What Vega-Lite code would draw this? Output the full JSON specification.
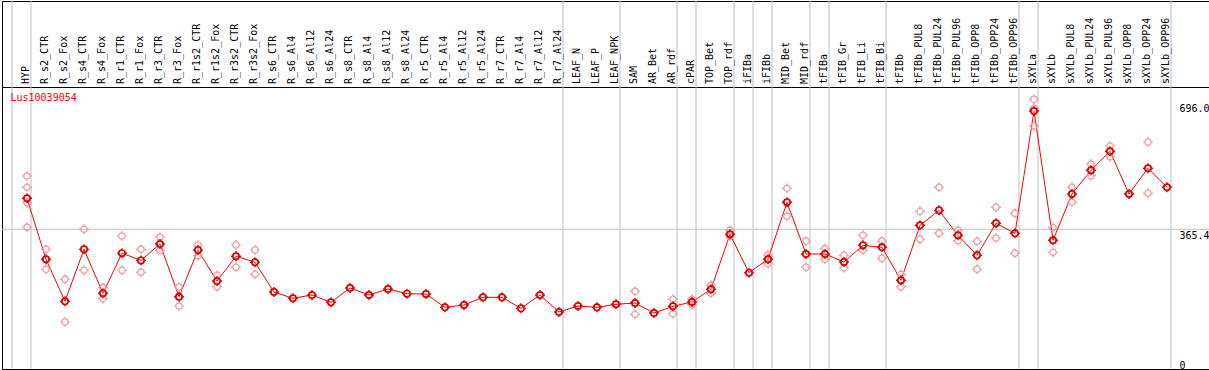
{
  "$schema": "https://vega.github.io/schema/vega-lite/v6.json",
  "padding": {"left": 1, "top": 0, "right": 0, "bottom": 0},
  "background": "white",
  "config": {
    "view": {"stroke": "black", "strokeWidth": 1},
    "font": "DejaVu Sans Mono"
  },
  "datasets": {
    "means": [
      {"cat": "HYP", "v": 446.5}, {"cat": "R_s2_CTR", "v": 287}, {"cat": "R_s2_Fox", "v": 177}, {"cat": "R_s4_CTR", "v": 313},
      {"cat": "R_s4_Fox", "v": 198}, {"cat": "R_r1_CTR", "v": 303}, {"cat": "R_r1_Fox", "v": 284}, {"cat": "R_r3_CTR", "v": 327},
      {"cat": "R_r3_Fox", "v": 189}, {"cat": "R_r1s2_CTR", "v": 311}, {"cat": "R_r1s2_Fox", "v": 230}, {"cat": "R_r3s2_CTR", "v": 295},
      {"cat": "R_r3s2_Fox", "v": 279}, {"cat": "R_s6_CTR", "v": 201.4}, {"cat": "R_s6_Al4", "v": 184.9}, {"cat": "R_s6_Al12", "v": 193.6},
      {"cat": "R_s6_Al24", "v": 174.4}, {"cat": "R_s8_CTR", "v": 211.9}, {"cat": "R_s8_Al4", "v": 193.6}, {"cat": "R_s8_Al12", "v": 209.3},
      {"cat": "R_s8_Al24", "v": 197}, {"cat": "R_r5_CTR", "v": 196.2}, {"cat": "R_r5_Al4", "v": 161.3}, {"cat": "R_r5_Al12", "v": 167.4},
      {"cat": "R_r5_Al24", "v": 187.5}, {"cat": "R_r7_CTR", "v": 187.5}, {"cat": "R_r7_Al4", "v": 158.7}, {"cat": "R_r7_Al12", "v": 193.6},
      {"cat": "R_r7_Al24", "v": 149.1}, {"cat": "LEAF_N", "v": 164.8}, {"cat": "LEAF_P", "v": 161.3}, {"cat": "LEAF_NPK", "v": 169.2},
      {"cat": "SAM", "v": 172.6}, {"cat": "AR_Bet", "v": 146.5}, {"cat": "AR_rdf", "v": 164}, {"cat": "cPAR", "v": 175.3},
      {"cat": "TOP_Bet", "v": 208.5}, {"cat": "TOP_rdf", "v": 352.3}, {"cat": "iFIBa", "v": 252}, {"cat": "iFIBb", "v": 286.9},
      {"cat": "MID_Bet", "v": 436}, {"cat": "MID_rdf", "v": 300.8}, {"cat": "tFIBa", "v": 300.8}, {"cat": "tFIB_Gr", "v": 279.9},
      {"cat": "tFIB_Li", "v": 323.5}, {"cat": "tFIB_Bi", "v": 318.3}, {"cat": "tFIBb", "v": 232}, {"cat": "tFIBb_PUL8", "v": 375.8},
      {"cat": "tFIBb_PUL24", "v": 415}, {"cat": "tFIBb_PUL96", "v": 349.7}, {"cat": "tFIBb_OPP8", "v": 297.3}, {"cat": "tFIBb_OPP24", "v": 381.1},
      {"cat": "tFIBb_OPP96", "v": 354.9}, {"cat": "sXYLa", "v": 674.9}, {"cat": "sXYLb", "v": 336.6}, {"cat": "sXYLb_PUL8", "v": 457.8},
      {"cat": "sXYLb_PUL24", "v": 519.7}, {"cat": "sXYLb_PUL96", "v": 569.4}, {"cat": "sXYLb_OPP8", "v": 457.8}, {"cat": "sXYLb_OPP24", "v": 525},
      {"cat": "sXYLb_OPP96", "v": 475.3}
    ],
    "reps": [
      {"cat": "HYP", "v": 504.8}, {"cat": "HYP", "v": 475.3}, {"cat": "HYP", "v": 435}, {"cat": "HYP", "v": 370.6},
      {"cat": "R_s2_CTR", "v": 313.1}, {"cat": "R_s2_CTR", "v": 260.8},
      {"cat": "R_s2_Fox", "v": 234.6}, {"cat": "R_s2_Fox", "v": 122.9},
      {"cat": "R_s4_CTR", "v": 365.4}, {"cat": "R_s4_CTR", "v": 258},
      {"cat": "R_s4_Fox", "v": 212.7}, {"cat": "R_s4_Fox", "v": 184},
      {"cat": "R_r1_CTR", "v": 347.9}, {"cat": "R_r1_CTR", "v": 258.1},
      {"cat": "R_r1_Fox", "v": 313.1}, {"cat": "R_r1_Fox", "v": 252.9},
      {"cat": "R_r3_CTR", "v": 345.3}, {"cat": "R_r3_CTR", "v": 310.4},
      {"cat": "R_r3_Fox", "v": 214.5}, {"cat": "R_r3_Fox", "v": 164.8},
      {"cat": "R_r1s2_CTR", "v": 324.3}, {"cat": "R_r1s2_CTR", "v": 296.4},
      {"cat": "R_r1s2_Fox", "v": 245}, {"cat": "R_r1s2_Fox", "v": 215.3},
      {"cat": "R_r3s2_CTR", "v": 324.3}, {"cat": "R_r3s2_CTR", "v": 266},
      {"cat": "R_r3s2_Fox", "v": 311.3}, {"cat": "R_r3s2_Fox", "v": 247.6},
      {"cat": "SAM", "v": 203.2}, {"cat": "SAM", "v": 172}, {"cat": "SAM", "v": 143},
      {"cat": "AR_rdf", "v": 182.3}, {"cat": "AR_rdf", "v": 144.7},
      {"cat": "cPAR", "v": 182.3}, {"cat": "cPAR", "v": 168.2},
      {"cat": "TOP_Bet", "v": 218.9}, {"cat": "TOP_Bet", "v": 198},
      {"cat": "TOP_rdf", "v": 362.8}, {"cat": "TOP_rdf", "v": 347.1},
      {"cat": "iFIBb", "v": 298.2}, {"cat": "iFIBb", "v": 275.5},
      {"cat": "MID_Bet", "v": 472.7}, {"cat": "MID_Bet", "v": 399.4},
      {"cat": "MID_rdf", "v": 334.8}, {"cat": "MID_rdf", "v": 266},
      {"cat": "tFIBa", "v": 314.7}, {"cat": "tFIBa", "v": 286.9},
      {"cat": "tFIB_Gr", "v": 297.3}, {"cat": "tFIB_Gr", "v": 265},
      {"cat": "tFIB_Li", "v": 349.7}, {"cat": "tFIB_Li", "v": 310.4},
      {"cat": "tFIB_Bi", "v": 334.8}, {"cat": "tFIB_Bi", "v": 289.6},
      {"cat": "tFIBb", "v": 247.6}, {"cat": "tFIBb", "v": 215.3},
      {"cat": "tFIBb_PUL8", "v": 412.4}, {"cat": "tFIBb_PUL8", "v": 339.1},
      {"cat": "tFIBb_PUL24", "v": 475.3}, {"cat": "tFIBb_PUL24", "v": 354.9},
      {"cat": "tFIBb_PUL96", "v": 362.8}, {"cat": "tFIBb_PUL96", "v": 335.7},
      {"cat": "tFIBb_OPP8", "v": 333.9}, {"cat": "tFIBb_OPP8", "v": 260.8},
      {"cat": "tFIBb_OPP24", "v": 422.9}, {"cat": "tFIBb_OPP24", "v": 342.7},
      {"cat": "tFIBb_OPP96", "v": 407.3}, {"cat": "tFIBb_OPP96", "v": 302.6},
      {"cat": "sXYLa", "v": 705.5}, {"cat": "sXYLa", "v": 681.9}, {"cat": "sXYLa", "v": 635.6},
      {"cat": "sXYLb", "v": 369.6}, {"cat": "sXYLb", "v": 305.2},
      {"cat": "sXYLb_PUL8", "v": 475.3}, {"cat": "sXYLb_PUL8", "v": 436},
      {"cat": "sXYLb_PUL24", "v": 536.2}, {"cat": "sXYLb_PUL24", "v": 505.6},
      {"cat": "sXYLb_PUL96", "v": 583.3}, {"cat": "sXYLb_PUL96", "v": 555.3},
      {"cat": "sXYLb_OPP24", "v": 593.8}, {"cat": "sXYLb_OPP24", "v": 459.6}
    ],
    "seps": [
      {"cat": "HYP"}, {"cat": "R_s2_CTR"}, {"cat": "LEAF_N"}, {"cat": "SAM"}, {"cat": "cPAR"}, {"cat": "TOP_Bet"},
      {"cat": "iFIBa"}, {"cat": "iFIBb"}, {"cat": "MID_Bet"}, {"cat": "tFIBa"}, {"cat": "tFIB_Gr"}, {"cat": "tFIBb"},
      {"cat": "sXYLa"}, {"cat": "sXYLb"}
    ],
    "last": [{"cat": "sXYLb_OPP96"}],
    "grid": [{"v": 365.4}]
  },
  "vconcat": [
    {
      "width": 1207,
      "height": 86,
      "layer": [
        {
          "data": {"name": "seps"},
          "mark": {"type": "rule", "color": "#c0c0c0", "strokeWidth": 1},
          "encoding": {
            "x": {"field": "cat", "type": "nominal", "bandPosition": 0, "axis": null,
              "scale": {"type": "band", "paddingInner": 0, "paddingOuter": 0, "range": [10, 1169],
                "domain": ["HYP","R_s2_CTR","R_s2_Fox","R_s4_CTR","R_s4_Fox","R_r1_CTR","R_r1_Fox","R_r3_CTR","R_r3_Fox","R_r1s2_CTR","R_r1s2_Fox","R_r3s2_CTR","R_r3s2_Fox","R_s6_CTR","R_s6_Al4","R_s6_Al12","R_s6_Al24","R_s8_CTR","R_s8_Al4","R_s8_Al12","R_s8_Al24","R_r5_CTR","R_r5_Al4","R_r5_Al12","R_r5_Al24","R_r7_CTR","R_r7_Al4","R_r7_Al12","R_r7_Al24","LEAF_N","LEAF_P","LEAF_NPK","SAM","AR_Bet","AR_rdf","cPAR","TOP_Bet","TOP_rdf","iFIBa","iFIBb","MID_Bet","MID_rdf","tFIBa","tFIB_Gr","tFIB_Li","tFIB_Bi","tFIBb","tFIBb_PUL8","tFIBb_PUL24","tFIBb_PUL96","tFIBb_OPP8","tFIBb_OPP24","tFIBb_OPP96","sXYLa","sXYLb","sXYLb_PUL8","sXYLb_PUL24","sXYLb_PUL96","sXYLb_OPP8","sXYLb_OPP24","sXYLb_OPP96"]}}
          }
        },
        {
          "data": {"name": "last"},
          "mark": {"type": "rule", "color": "#c0c0c0", "strokeWidth": 1},
          "encoding": {"x": {"field": "cat", "type": "nominal", "bandPosition": 1}}
        },
        {
          "data": {"name": "means"},
          "mark": {"type": "text", "angle": 270, "align": "left", "baseline": "middle", "font": "DejaVu Sans Mono", "fontSize": 10, "color": "black"},
          "encoding": {
            "x": {"field": "cat", "type": "nominal", "bandPosition": 0.72},
            "y": {"datum": 0.035, "type": "quantitative", "scale": {"domain": [0, 1]}, "axis": null},
            "text": {"field": "cat"}
          }
        }
      ]
    },
    {
      "width": 1207,
      "height": 282,
      "title": {"text": "Lus10039054", "color": "red", "font": "DejaVu Sans Mono", "fontSize": 10, "fontWeight": "normal", "anchor": "start", "frame": "group", "offset": -24, "dx": 8.5, "baseline": "alphabetic"},
      "layer": [
        {
          "data": {"name": "seps"},
          "mark": {"type": "rule", "color": "#c0c0c0", "strokeWidth": 1},
          "encoding": {
            "x": {"field": "cat", "type": "nominal", "bandPosition": 0, "axis": null,
              "scale": {"type": "band", "paddingInner": 0, "paddingOuter": 0, "range": [10, 1169],
                "domain": ["HYP","R_s2_CTR","R_s2_Fox","R_s4_CTR","R_s4_Fox","R_r1_CTR","R_r1_Fox","R_r3_CTR","R_r3_Fox","R_r1s2_CTR","R_r1s2_Fox","R_r3s2_CTR","R_r3s2_Fox","R_s6_CTR","R_s6_Al4","R_s6_Al12","R_s6_Al24","R_s8_CTR","R_s8_Al4","R_s8_Al12","R_s8_Al24","R_r5_CTR","R_r5_Al4","R_r5_Al12","R_r5_Al24","R_r7_CTR","R_r7_Al4","R_r7_Al12","R_r7_Al24","LEAF_N","LEAF_P","LEAF_NPK","SAM","AR_Bet","AR_rdf","cPAR","TOP_Bet","TOP_rdf","iFIBa","iFIBb","MID_Bet","MID_rdf","tFIBa","tFIB_Gr","tFIB_Li","tFIB_Bi","tFIBb","tFIBb_PUL8","tFIBb_PUL24","tFIBb_PUL96","tFIBb_OPP8","tFIBb_OPP24","tFIBb_OPP96","sXYLa","sXYLb","sXYLb_PUL8","sXYLb_PUL24","sXYLb_PUL96","sXYLb_OPP8","sXYLb_OPP24","sXYLb_OPP96"]}}
          }
        },
        {
          "data": {"name": "last"},
          "mark": {"type": "rule", "color": "#c0c0c0", "strokeWidth": 1},
          "encoding": {"x": {"field": "cat", "type": "nominal", "bandPosition": 1}}
        },
        {
          "data": {"name": "grid"},
          "mark": {"type": "rule", "color": "#c0c0c0", "strokeWidth": 1},
          "encoding": {"y": {"field": "v", "type": "quantitative"}}
        },
        {
          "data": {"name": "means"},
          "mark": {"type": "line", "color": "red", "strokeWidth": 1},
          "encoding": {
            "x": {"field": "cat", "type": "nominal", "bandPosition": 0.789},
            "y": {"field": "v", "type": "quantitative",
              "scale": {"domain": [0, 737.6], "nice": false, "zero": true},
              "axis": {"orient": "right", "offset": -38, "values": [0, 365.4, 696], "title": null,
                "domain": false, "ticks": false, "grid": false, "labelFont": "DejaVu Sans Mono", "labelFontSize": 10, "labelColor": "black",
                "labelAlign": "left", "labelPadding": 8, "labelOffset": 1,
                "labelExpr": "datum.value == 0 ? '0' : format(datum.value, '.1f')",
                "labelBaseline": {"condition": {"test": "datum.value == 0", "value": "bottom"}, "value": "top"}}}
          }
        },
        {
          "data": {"name": "reps"},
          "mark": {"type": "point", "shape": "circle", "filled": false, "size": 40, "stroke": "#ef9a9a", "strokeWidth": 1.3, "opacity": 1},
          "encoding": {
            "x": {"field": "cat", "type": "nominal", "bandPosition": 0.789},
            "y": {"field": "v", "type": "quantitative"}
          }
        },
        {
          "data": {"name": "reps"},
          "mark": {"type": "point", "shape": "M0,-1L0,-0.68M0,0.68L0,1M-1,0L-0.68,0M0.68,0L1,0", "filled": false, "size": 100, "stroke": "#ef9a9a", "strokeWidth": 1.2, "opacity": 1},
          "encoding": {
            "x": {"field": "cat", "type": "nominal", "bandPosition": 0.789},
            "y": {"field": "v", "type": "quantitative"}
          }
        },
        {
          "data": {"name": "means"},
          "mark": {"type": "point", "shape": "circle", "filled": false, "size": 40, "stroke": "#e00000", "strokeWidth": 1.7, "opacity": 1},
          "encoding": {
            "x": {"field": "cat", "type": "nominal", "bandPosition": 0.789},
            "y": {"field": "v", "type": "quantitative"}
          }
        },
        {
          "data": {"name": "means"},
          "mark": {"type": "point", "shape": "M0,-1L0,-0.68M0,0.68L0,1M-1,0L-0.68,0M0.68,0L1,0", "filled": false, "size": 100, "stroke": "#e00000", "strokeWidth": 1.4, "opacity": 1},
          "encoding": {
            "x": {"field": "cat", "type": "nominal", "bandPosition": 0.789},
            "y": {"field": "v", "type": "quantitative"}
          }
        }
      ]
    }
  ],
  "spacing": 0,
  "bounds": "flush",
  "resolve": {"scale": {"x": "independent", "y": "independent"}}
}
